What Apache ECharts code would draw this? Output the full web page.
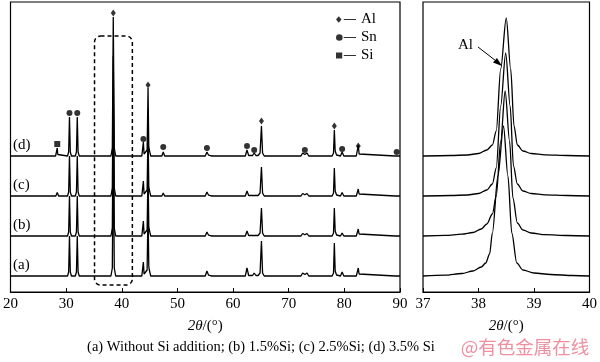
<!DOCTYPE html>
<html>
<head>
<meta charset="utf-8">
<script src="https://cdn.jsdelivr.net/npm/echarts@6/dist/echarts.min.js"></script>
<style>html,body{margin:0;padding:0;background:#fff;}#c{width:600px;height:362px;}</style>
</head>
<body>
<div id="c"></div>
<script>
// ---------- DATA ----------
var curveLabels = ['(a)', '(b)', '(c)', '(d)'];
var leftTicks = [20, 30, 40, 50, 60, 70, 80, 90];
var rightTicks = [37, 38, 39, 40];
var caption = '(a) Without Si addition; (b) 1.5%Si; (c) 2.5%Si; (d) 3.5% Si';
var watermark = '@有色金属在线';

// Full pattern 20-90 deg, intensity above own baseline
var leftA = [[20,0],
 [30.25,0],[30.45,4],[30.6,40],[30.75,4],[30.95,0],
 [31.65,0],[31.85,4],[32.0,40],[32.15,4],[32.35,0],
 [38.05,0],[38.3,8],[38.47,140],[38.65,8],[38.9,0],
 [43.6,0],[43.78,2],[43.88,14],[44.0,2],[44.15,1],[44.55,6],[44.72,68],[44.85,10],[44.95,6],[45.2,0],
 [55.0,0],[55.3,5],[55.6,0.8],[55.9,1.2],[56.2,0],
 [62.2,0],[62.5,8],[62.8,0.5],[63.5,0.5],[63.8,3],[64.1,0.5],
 [64.5,0.5],[64.85,3],[65.1,35],[65.3,3],[65.6,0],
 [72.2,0],[72.5,3],[72.9,1.5],[73.3,3],[73.6,0],
 [77.8,0],[78.05,3],[78.2,33],[78.35,5],[78.45,6],[78.6,1],[78.9,0],
 [79.3,0],[79.6,4],[79.9,0],
 [82.15,0],[82.35,2],[82.5,8],[82.65,2],[82.9,0],
 [89.1,0],[89.4,2],[89.7,0],[90,0]];
var leftB = [[20,0],
 [28.15,0],[28.4,2],[28.65,0],
 [30.25,0],[30.45,4],[30.6,40],[30.75,4],[30.95,0],
 [31.65,0],[31.85,4],[32.0,40],[32.15,4],[32.35,0],
 [38.05,0],[38.3,8],[38.47,140],[38.65,8],[38.9,0],
 [43.6,0],[43.78,2],[43.88,15],[44.0,2],[44.15,1],[44.55,6],[44.72,68],[44.85,10],[44.95,6],[45.2,0],
 [47.2,0],[47.45,2],[47.7,0],
 [55.0,0],[55.3,4],[55.6,0.8],[55.9,1.2],[56.2,0],
 [62.2,0],[62.5,5],[62.8,0.5],[63.5,0.5],[63.8,2.5],[64.1,0.5],
 [64.5,0.5],[64.85,3],[65.1,28],[65.3,3],[65.6,0],
 [72.2,0],[72.5,2.5],[72.9,1.2],[73.3,2.5],[73.6,0],
 [77.8,0],[78.05,3],[78.2,28],[78.35,5],[78.45,6],[78.6,1],[78.9,0],
 [79.3,0],[79.6,3],[79.9,0],
 [82.15,0],[82.35,2],[82.5,7],[82.65,2],[82.9,0],
 [89.1,0],[89.4,1.5],[89.7,0],[90,0]];
var leftC = [[20,0],
 [28.15,0],[28.4,3.5],[28.65,0],
 [30.25,0],[30.45,4],[30.6,40],[30.75,4],[30.95,0],
 [31.65,0],[31.85,4],[32.0,40],[32.15,4],[32.35,0],
 [38.05,0],[38.3,8],[38.47,140],[38.65,8],[38.9,0],
 [43.6,0],[43.78,2],[43.88,15],[44.0,2],[44.15,1],[44.55,6],[44.72,68],[44.85,10],[44.95,6],[45.2,0],
 [47.2,0],[47.45,3],[47.7,0],
 [55.0,0],[55.3,4],[55.6,0.8],[55.9,1.2],[56.2,0],
 [62.2,0],[62.5,5],[62.8,0.5],[63.5,0.5],[63.8,2.5],[64.1,0.5],
 [64.5,0.5],[64.85,3],[65.1,29],[65.3,3],[65.6,0],
 [72.2,0],[72.5,2.5],[72.9,1.2],[73.3,2.5],[73.6,0],
 [77.8,0],[78.05,3],[78.2,28],[78.35,5],[78.45,6],[78.6,1],[78.9,0],
 [79.3,0],[79.6,3.5],[79.9,0],
 [82.15,0],[82.35,2],[82.5,7],[82.65,2],[82.9,0],
 [89.1,0],[89.4,1.5],[89.7,0],[90,0]];
var leftD = [[20,0],
 [28.1,0],[28.3,1.5],[28.4,8],[28.5,1.5],[28.7,0],
 [30.25,0],[30.45,4],[30.6,39],[30.75,4],[30.95,0],
 [31.65,0],[31.85,4],[32.0,39],[32.15,4],[32.35,0],
 [38.05,0],[38.3,8],[38.47,139],[38.65,8],[38.9,0],
 [43.6,0],[43.78,2],[43.88,14],[44.0,2],[44.15,1],[44.55,6],[44.72,68],[44.85,10],[44.95,6],[45.2,0],
 [47.2,0],[47.45,4],[47.7,0],
 [55.0,0],[55.3,4],[55.6,0.8],[55.9,1.2],[56.2,0],
 [62.2,0],[62.5,6],[62.8,0.5],[63.5,0.5],[63.8,3],[64.1,0.5],
 [64.5,0.5],[64.85,3],[65.1,30],[65.3,3],[65.6,0],
 [72.2,0],[72.5,3],[72.9,1.5],[73.3,3],[73.6,0],
 [77.8,0],[78.05,3],[78.2,26],[78.35,5],[78.45,6],[78.6,1],[78.9,0],
 [79.3,0],[79.6,4],[79.9,0],
 [82.15,0],[82.35,2],[82.5,11],[82.65,2],[82.9,0],
 [89.1,0],[89.4,2],[89.7,0],[90,0]];

// Zoomed Al(111) peak, 37-40 deg
var rightA = [[37,0],[37.4,0.8],[37.7,2.5],[37.9,5],[38.05,9],[38.13,13],[38.2,22],[38.25,43],[38.35,100],[38.45,150],[38.53,100],[38.6,43],[38.69,13],[38.8,6],[39.0,3],[39.3,1.5],[39.7,0.5],[40,0]];
var rightB = [[37,0],[37.4,0.6],[37.7,1.8],[37.9,3.5],[38.05,7],[38.15,12],[38.25,22],[38.32,40],[38.4,95],[38.48,145],[38.56,95],[38.62,38],[38.7,13],[38.8,6],[38.95,3],[39.2,1.3],[39.6,0.5],[40,0]];
var rightC = [[37,0],[37.5,0.5],[37.8,1],[38.0,2.5],[38.15,6],[38.25,12],[38.32,28],[38.4,90],[38.49,143],[38.57,90],[38.63,30],[38.7,12],[38.8,5],[38.95,2.5],[39.2,1.2],[39.6,0.5],[40,0]];
var rightD = [[37,0],[37.5,0.5],[37.8,1],[38.0,2.5],[38.15,6],[38.25,11],[38.32,25],[38.4,87],[38.5,138],[38.58,87],[38.64,30],[38.7,11],[38.8,5],[38.95,2.5],[39.2,1.2],[39.6,0.5],[40,0]];

// Phase markers above curve (d) (absolute axis values)
var alMarks = [[38.47,279],[44.72,207],[65.1,171],[78.2,166],[82.5,146]];
var snMarks = [[30.6,179],[32.0,179],[43.88,153],[47.45,145],[55.3,144],[62.5,146],[63.8,142],[72.9,142],[79.6,143],[89.4,140]];
var siMarks = [[28.4,148]];

// ---------- CHART ----------
var offsets = [16, 56, 96, 136];
var serif = 'Liberation Serif, Times New Roman, serif';
function shift(arr, off) { return arr.map(function (p) { return [p[0], p[1] + off]; }); }

var chart = echarts.init(document.getElementById('c'), null, {renderer: 'canvas'});

function xAx(gi, min, max) {
  return {
    type: 'value', gridIndex: gi, min: min, max: max, interval: (gi === 0 ? 10 : 1),
    axisLine: {show: true, lineStyle: {color: '#000', width: 1.2}},
    axisTick: {show: true, inside: true, length: 4, lineStyle: {color: '#000', width: 1}},
    axisLabel: {show: true, color: '#000', fontFamily: serif, fontSize: 15, margin: 5},
    splitLine: {show: false},
    name: '{i|2θ}/(°)', nameLocation: 'middle', nameGap: 27,
    nameTextStyle: {color: '#000', fontFamily: serif, fontSize: 15,
      rich: {i: {fontStyle: 'italic', fontFamily: serif, fontSize: 15, color: '#000'}}}
  };
}
function yAx(gi) {
  return {type: 'value', gridIndex: gi, min: 0, max: 290, show: false};
}

var lineStyle = {color: '#000', width: 1.3};
var series = [];
var lefts = [leftA, leftB, leftC, leftD];
var rights = [rightA, rightB, rightC, rightD];
for (var i = 0; i < 4; i++) {
  series.push({type: 'line', name: 'L' + i, xAxisIndex: 0, yAxisIndex: 0, data: shift(lefts[i], offsets[i]),
    showSymbol: false, symbol: 'none', lineStyle: lineStyle, itemStyle: {color: '#000'}, silent: true, z: 2});
  series.push({type: 'line', name: 'R' + i, xAxisIndex: 1, yAxisIndex: 1, data: shift(rights[i], offsets[i]),
    showSymbol: false, symbol: 'none', smooth: 0.3, smoothMonotone: 'x', lineStyle: lineStyle, itemStyle: {color: '#000'}, silent: true, z: 2});
}
series.push({type: 'scatter', name: 'Al', xAxisIndex: 0, yAxisIndex: 0, data: alMarks, symbol: 'diamond', symbolSize: [5, 7], itemStyle: {color: '#000'}, z: 3});
series.push({type: 'scatter', name: 'Sn', xAxisIndex: 0, yAxisIndex: 0, data: snMarks, symbol: 'circle', symbolSize: 6, itemStyle: {color: '#000'}, z: 3});
series.push({type: 'scatter', name: 'Si', xAxisIndex: 0, yAxisIndex: 0, data: siMarks, symbol: 'rect', symbolSize: 6, itemStyle: {color: '#000'}, z: 3});

var option = {
  animation: false,
  backgroundColor: '#fff',
  textStyle: {fontFamily: serif},
  grid: [
    {left: 7, right: 200, top: 2, bottom: 70, show: true, borderColor: '#000', borderWidth: 1.2},
    {left: 423, right: 8, top: 2, bottom: 70, show: true, borderColor: '#000', borderWidth: 1.2}
  ],
  xAxis: [xAx(0, 20, 90), xAx(1, 37, 40)],
  yAxis: [yAx(0), yAx(1)],
  legend: {
    orient: 'vertical', left: 331, top: 7, itemGap: 3,
    itemWidth: 20, itemHeight: 8, selectedMode: false,
    textStyle: {fontFamily: serif, fontSize: 15, color: '#000'},
    data: [
      {name: 'Al', icon: 'path://M0,4L2.5,1L5,4L2.5,7ZM7,3.5H18V4.5H7Z'},
      {name: 'Sn', icon: 'path://M0,4A3,3 0 1,0 6,4A3,3 0 1,0 0,4ZM7,3.5H18V4.5H7Z'},
      {name: 'Si', icon: 'path://M0,1.2H5.6V6.8H0ZM7,3.5H18V4.5H7Z'}
    ]
  },
  series: series
};
chart.setOption(option);

// graphics positioned from axis values
var p1 = chart.convertToPixel({xAxisIndex: 0, yAxisIndex: 0}, [35.1, 256]);
var p2 = chart.convertToPixel({xAxisIndex: 0, yAxisIndex: 0}, [41.9, 7]);
var graphics = [
  {type: 'rect', shape: {x: p1[0], y: p1[1], width: p2[0] - p1[0], height: p2[1] - p1[1], r: 6},
   style: {fill: 'none', stroke: '#000', lineWidth: 1.5, lineDash: [4, 3]}, z: 10}
];
var labelY = [266, 226, 186, 146];
for (var k = 0; k < 4; k++) {
  graphics.push({type: 'text', left: 13, top: labelY[k] - 8,
    style: {text: curveLabels[k], font: '15px ' + serif, fill: '#000'}, z: 10});
}
graphics.push({type: 'text', left: 458, top: 38, style: {text: 'Al', font: '15px ' + serif, fill: '#000'}, z: 10});
graphics.push({type: 'line', shape: {x1: 478, y1: 47, x2: 500, y2: 64}, style: {stroke: '#000', lineWidth: 1}, z: 10});
graphics.push({type: 'polygon', shape: {points: [[502, 66], [493, 62.5], [497, 58]]}, style: {fill: '#000'}, z: 10});
graphics.push({type: 'text', x: 261, y: 347, style: {text: caption, font: '14.5px ' + serif, fill: '#000', align: 'center', verticalAlign: 'middle'}, z: 10});
graphics.push({type: 'text', x: 525, y: 347, style: {text: watermark, font: '18.5px "Noto Sans CJK SC"', fill: '#ef8f9f', align: 'center', verticalAlign: 'middle'}, z: 10});
chart.setOption({graphic: graphics});
</script>
</body>
</html>
